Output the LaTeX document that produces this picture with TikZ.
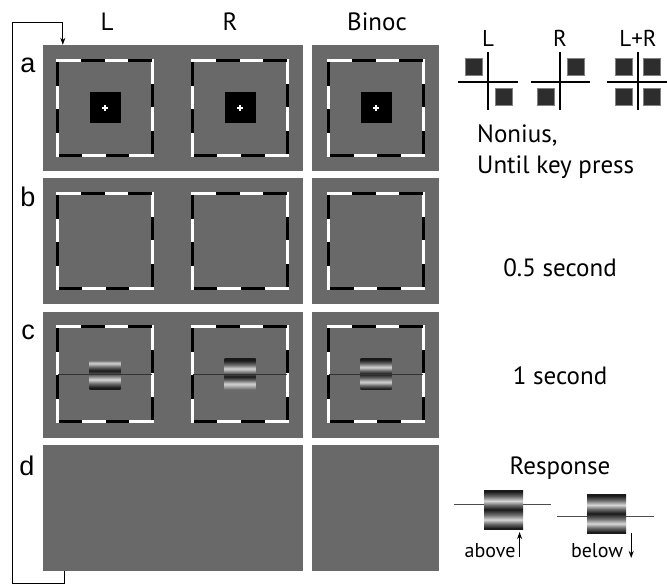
\documentclass[tikz,border=0pt]{standalone}
\usepackage{fontspec}
\setmainfont{PT Sans}
\newfontfamily\rowfont{Liberation Sans}
\usepackage{xcolor}
\usepackage{tikz}
\usetikzlibrary{arrows.meta,positioning}

\definecolor{panelgray}{RGB}{105,105,105}
\definecolor{grlight}{RGB}{215,215,215}
\definecolor{grdark}{RGB}{25,25,25}
\definecolor{nonsq}{RGB}{45,45,45}

% horizontal gratings, path covers 25bp..75bp
\pgfdeclareverticalshading{gratL}{100bp}{color(0bp)=(grdark); color(25bp)=(grdark); color(28bp)=(grdark); color(34.5bp)=(panelgray); color(41bp)=(grlight); color(48bp)=(panelgray); color(55.5bp)=(grdark); color(61.5bp)=(panelgray); color(67.5bp)=(grlight); color(72bp)=(panelgray); color(75bp)=(panelgray); color(100bp)=(panelgray)}
\pgfdeclareverticalshading{gratR}{100bp}{color(0bp)=(panelgray); color(25bp)=(panelgray); color(34bp)=(grlight); color(40bp)=(panelgray); color(46bp)=(grdark); color(52bp)=(panelgray); color(58.5bp)=(grlight); color(65bp)=(panelgray); color(72bp)=(grdark); color(75bp)=(grdark); color(100bp)=(grdark)}
\pgfdeclareverticalshading{gratB}{100bp}{color(0bp)=(grdark); color(26bp)=(grdark); color(31.5bp)=(panelgray); color(37bp)=(grlight); color(43.5bp)=(panelgray); color(50bp)=(grdark); color(55.5bp)=(panelgray); color(61bp)=(grlight); color(67bp)=(panelgray); color(73bp)=(grdark); color(100bp)=(grdark)}

\begin{document}
\begin{tikzpicture}[x=1bp, y=-1bp, >={Stealth[length=7bp,width=5bp]}]

\tikzstyle{panel} = [fill=panelgray, inner sep=0pt, minimum height=126bp]
\tikzstyle{wide} = [minimum width=260bp]
\tikzstyle{narrow} = [minimum width=127bp]
\tikzstyle{frame} = [inner sep=0pt, minimum size=94bp]
\tikzstyle{fixbox} = [fill=black, inner sep=0pt, minimum size=31bp]
\tikzstyle{grating} = [shade, inner sep=0pt, minimum size=31bp]
\tikzstyle{bigtext} = [inner sep=0pt, anchor=base, font=\fontsize{25bp}{30bp}\selectfont]
\tikzstyle{smalltext} = [inner sep=0pt, anchor=base, font=\fontsize{23bp}{27bp}\selectfont]
\tikzstyle{rowlabel} = [inner sep=0pt, anchor=base, font=\rowfont\fontsize{27bp}{32bp}\selectfont]
\tikzstyle{nonsquare} = [fill=nonsq, draw=gray, line width=0.8bp, inner sep=0pt, minimum size=17bp]
\tikzstyle{refline} = [black!80, line width=1bp]

\useasboundingbox (0,0) rectangle (667,587);

% panels
\node [panel, wide] (aL) at (173,108) {};
\node [panel, narrow, right = 9bp of aL] (aB) {};
\node [panel, wide, below = 7bp of aL] (bL) {};
\node [panel, narrow, right = 9bp of bL] (bB) {};
\node [panel, wide, below = 7bp of bL] (cL) {};
\node [panel, narrow, right = 9bp of cL] (cB) {};
\node [panel, wide, below = 7bp of cL] (dL) {};
\node [panel, narrow, right = 9bp of dL] (dB) {};

% dashed frames
\node [frame] (faL) at (105,108) {};
\node [frame] (faR) at (240,108) {};
\node [frame] (faB) at (376,108) {};
\node [frame] (fbL) at (105,241) {};
\node [frame] (fbR) at (240,241) {};
\node [frame] (fbB) at (376,241) {};
\node [frame] (fcL) at (105,374) {};
\node [frame] (fcR) at (240,374) {};
\node [frame] (fcB) at (376,374) {};
\foreach \f in {faL,faR,faB,fbL,fbR,fbB,fcL,fcR,fcB} {
  \draw [white, line width=3bp] (\f.north west) rectangle (\f.south east);
  \draw [black, line width=3bp, dash pattern=on 23.5bp off 23.5bp, dash phase=23.5bp]
    (\f.north west) -- (\f.north east) -- (\f.south east) -- (\f.south west) -- cycle;
}

% fixation
\foreach \f in {faL,faR,faB} {
  \node [fixbox] at (\f) {};
  \draw [white, line width=1.5bp] ([xshift=-3bp]\f.center) -- ([xshift=3bp]\f.center)
    ([yshift=-3bp]\f.center) -- ([yshift=3bp]\f.center);
}

% gratings
\node [grating, shading=gratL] (gL) at (fcL) {};
\node [grating, shading=gratR] (gR) at (fcR) {};
\node [grating, shading=gratB] (gB) at (fcB) {};
\foreach \f in {fcL,fcR,fcB}
  \draw [refline] (\f.west) -- (\f.east);

% labels
\node [bigtext] (lblL) at (107,31) {L};
\node [bigtext] (lblR) at (230,31) {R};
\node [bigtext] (lblB) at (377,31) {Binoc};
\node [rowlabel] (rowa) at (28,73) {a};
\node [rowlabel] (rowb) at (28,206) {b};
\node [rowlabel] (rowc) at (28,339) {c};
\node [rowlabel] (rowd) at (27,475) {d};

% loop back
\coordinate (loopbl) at (12,583);
\coordinate (looptl) at (12,22);
\draw [->, line width=0.8bp] ([xshift=22bp]dL.south west) |- (loopbl) -- (looptl) -| ([xshift=20bp]aL.north west);

% nonius legend
\node [smalltext] (nL) at (488,47) {L};
\node [smalltext] (nR) at (560,47) {R};
\node [smalltext] (nLR) at (638,47) {L+R};
\node [nonsquare] at (474,67) {};
\node [nonsquare] at (503.5,96.5) {};
\node [nonsquare] at (575.5,67) {};
\node [nonsquare] at (546,96.5) {};
\node [nonsquare] at (623.5,67) {};
\node [nonsquare] at (651.5,67) {};
\node [nonsquare] at (623.5,96.5) {};
\node [nonsquare] at (651.5,96.5) {};
\draw [line width=1.8bp] (458,82) -- (518,82) (488,52) -- (488,110);
\draw [line width=1.8bp] (531,82) -- (590,82) (560,52) -- (560,110);
\draw [line width=1.8bp] (607,82) -- (667,82) (638,52) -- (638,110);

\node [bigtext, anchor=base west] (nonius) at (477,143) {Nonius,};
\node [bigtext, anchor=base west] (untilkey) at (477,174) {Until key press};
\node [bigtext] (t05) at (560,276) {0.5 second};
\node [bigtext] (t1) at (560,384) {1 second};

% response
\node [bigtext] (resp) at (560,474) {Response};
\draw [gray!60!black, line width=0.8bp] (454,504) -- (551,504);
\node [grating, shading=gratB, minimum size=39bp] (rAbove) at (503.5,509.5) {};
\draw [gray!60!black, line width=0.8bp] (557,516) -- (654,516);
\node [grating, shading=gratB, minimum size=39bp] (rBelow) at (606.5,513.5) {};
\node [inner sep=0pt, anchor=base, font=\fontsize{20bp}{24bp}\selectfont] (above) at (490,557) {above};
\node [inner sep=0pt, anchor=base, font=\fontsize{20bp}{24bp}\selectfont] (below) at (597,557) {below};
\draw [->, line width=1.2bp] ([xshift=4bp]above.base east) -- ++(0,-25);
\draw [->, line width=1.2bp] ([xshift=8bp,yshift=24bp]below.base east) -- ++(0,25);

\end{tikzpicture}
\end{document}
